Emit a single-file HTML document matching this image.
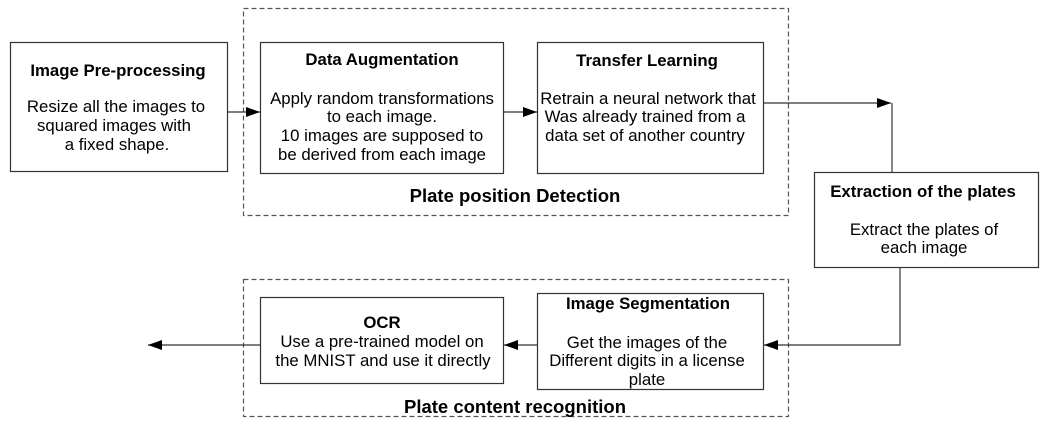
<!DOCTYPE html><html><head><style>body{margin:0;background:#fff}svg text{font-family:"Liberation Sans",sans-serif;font-size:16.8px;fill:#000}.b{font-weight:bold}</style></head><body>
<svg width="1047" height="431" xmlns="http://www.w3.org/2000/svg">
<defs><marker id="a" markerWidth="14" markerHeight="10" refX="14" refY="5" orient="auto" markerUnits="userSpaceOnUse"><path d="M0,0L14,5L0,10z" fill="#000"/></marker></defs>
<g fill="none" stroke="#555" stroke-dasharray="5,3" stroke-width="1.2">
<rect x="243.5" y="8.5" width="545" height="207"/>
<rect x="243.5" y="279.5" width="545" height="137"/>
</g>
<g fill="#fff" stroke="#333" stroke-width="1.2">
<rect x="10.5" y="42.5" width="217" height="129"/>
<rect x="260.5" y="42.5" width="243" height="131"/>
<rect x="537.5" y="42.5" width="226" height="131"/>
<rect x="814.5" y="172.5" width="224" height="95"/>
<rect x="537.5" y="293.5" width="226" height="96"/>
<rect x="260.5" y="297.5" width="243" height="86"/>
</g>
<g stroke="#333" stroke-width="1.2" fill="none">
<line x1="228" y1="112" x2="260" y2="112" marker-end="url(#a)"/>
<line x1="504" y1="112" x2="537" y2="112" marker-end="url(#a)"/>
<line x1="764" y1="103" x2="891" y2="103" marker-end="url(#a)"/>
<line x1="892" y1="103" x2="892" y2="172"/>
<polyline points="900,268 900,345 764,345" marker-end="url(#a)"/>
<line x1="537" y1="345" x2="504" y2="345" marker-end="url(#a)"/>
<line x1="260" y1="345" x2="148" y2="345" marker-end="url(#a)"/>
</g>
<g text-anchor="middle">
<text x="118" y="76" class="b">Image Pre-processing</text>
<text x="116" y="112">Resize all the images to</text>
<text x="114" y="131">squared images with</text>
<text x="117" y="150">a fixed shape.</text>
<text x="382" y="65" class="b">Data Augmentation</text>
<text x="382" y="104">Apply random transformations</text>
<text x="382" y="122">to each image.</text>
<text x="382" y="141">10 images are supposed to</text>
<text x="382" y="160">be derived from each image</text>
<text x="647" y="66" class="b">Transfer Learning</text>
<text x="648" y="104">Retrain a neural network that</text>
<text x="645" y="122">Was already trained from a</text>
<text x="645" y="141">data set  of another country</text>
<text x="515" y="202" class="b" style="font-size:18.5px">Plate position Detection</text>
<text x="923" y="197" class="b">Extraction of the plates</text>
<text x="924" y="235">Extract the plates of</text>
<text x="924" y="253">each image</text>
<text x="648" y="309" class="b">Image Segmentation</text>
<text x="647" y="348">Get the images of the</text>
<text x="647" y="366">Different digits in a license</text>
<text x="647" y="385">plate</text>
<text x="382" y="328" class="b">OCR</text>
<text x="382" y="347">Use a pre-trained model on</text>
<text x="383" y="366">the MNIST and use it directly</text>
<text x="515" y="413" class="b" style="font-size:18.5px">Plate content recognition</text>
</g>
</svg></body></html>
